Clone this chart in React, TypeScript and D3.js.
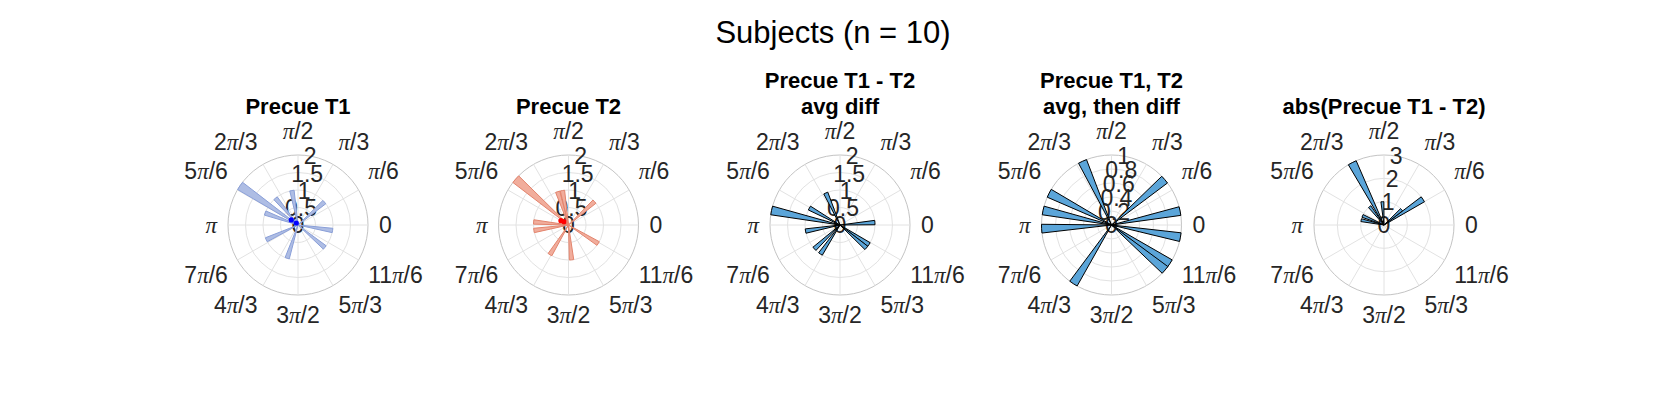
import React from 'react'
import * as d3 from 'd3'

// figure title and panel titles
const figTitle = 'Subjects (n = 10)'
const panelTitles = [
  ['Precue T1'],
  ['Precue T2'],
  ['Precue T1 - T2', 'avg diff'],
  ['Precue T1, T2', 'avg, then diff'],
  ['abs(Precue T1 - T2)'],
]

// theta tick labels (every 30 deg)
const thetaTicks = [0, 30, 60, 90, 120, 150, 180, 210, 240, 270, 300, 330]
const thetaLabels = ['0', 'π/6', 'π/3', 'π/2', '2π/3', '5π/6', 'π', '7π/6', '4π/3', '3π/2', '5π/3', '11π/6']

// radial ticks per panel
const rTicks = [
  [0, 0.5, 1, 1.5, 2],
  [0, 0.5, 1, 1.5, 2],
  [0, 0.5, 1, 1.5, 2],
  [0, 0.2, 0.4, 0.6, 0.8, 1],
  [0, 1, 2, 3],
]

// bar directions (deg) and counts per panel
const t1Angles = [146, 100, 130, 160, 41, -9, -40, -108, -155]
const t1Counts = [2, 1, 1, 1, 1, 1, 1, 1, 1]
const t2Angles = [139, 108, 100, 42, 175, 189, -122, -85, -32]
const t2Counts = [2, 1, 1, 1, 1, 1, 1, 1, 1]
const diffAngles = [168, 114, 151, 4, 190, -137, -124, -34, -41]
const diffCounts = [2, 1, 1, 1, 1, 1, 1, 1, 1]
const avgDiffAngles = [114.5, 153, 168, 183, 40.5, 11.5, -10, -33.5, -40, -123]
const avgDiffCounts = [1, 1, 1, 1, 1, 1, 1, 1, 1, 1]
const absAngles = [117, 33.5, 41, 94, 128, 157, 168]
const absCounts = [3, 2, 1, 1, 1, 1, 1]

// mean markers (r, deg)
const t1Means = [[0.24, 143], [0.075, 130]]
const t2Means = [[0.25, 150], [0.16, 144]]

const binWidth = 7.2

const panels = [
  {angles: t1Angles, counts: t1Counts, fill: '#aebde4', stroke: '#8a9fd8', means: t1Means, dot: '#0000ff'},
  {angles: t2Angles, counts: t2Counts, fill: '#f1ad9c', stroke: '#e3846d', means: t2Means, dot: '#ff0000'},
  {angles: diffAngles, counts: diffCounts, fill: '#5ba5d9', stroke: '#000', means: [], dot: ''},
  {angles: avgDiffAngles, counts: avgDiffCounts, fill: '#5ba5d9', stroke: '#000', means: [], dot: ''},
  {angles: absAngles, counts: absCounts, fill: '#5ba5d9', stroke: '#000', means: [], dot: ''},
]

const centersX = [298, 568.5, 840, 1111.5, 1384]
const cy = 225
const R = 70
const fontFam = '"Liberation Sans", Arial, Helvetica, sans-serif'
const tickSize = 23
const rad = (d: number) => (d * Math.PI) / 180

const ThetaLabel = ({text, x, y, anchor}: {text: string, x: number, y: number, anchor: string}) => {
  const parts = text.split('π')
  return (
    <text x={x} y={y} textAnchor={anchor} fontSize={tickSize} fill="#262626" fontFamily={fontFam}>
      {parts[0]}
      {parts.length > 1 &&
        <tspan fontFamily='"Liberation Serif", "DejaVu Serif", serif' fontStyle="italic">π</tspan>}
      {parts.length > 1 && parts[1]}
    </text>
  )
}

const Polar = ({i}: {i: number}) => {
  const p = panels[i]
  const ticks = rTicks[i]
  const rmax = ticks[ticks.length - 1]
  const r = d3.scaleLinear().domain([0, rmax]).range([0, R])
  const arc = d3.arc<any>()
  const cx = centersX[i]
  const lab = R + 11

  return (
    <g transform={`translate(${cx},${cy})`}>
      {/* grid */}
      {ticks.slice(1).map((t, k) => (
        <circle key={'c' + k} r={r(t)} fill="none"
          stroke={t === rmax ? '#c4c4c4' : '#e2e2e2'} strokeWidth={1} />
      ))}
      {thetaTicks.map(a => (
        <line key={'s' + a} x1={0} y1={0} x2={R * Math.cos(rad(a))} y2={-R * Math.sin(rad(a))}
          stroke="#e2e2e2" strokeWidth={1} />
      ))}
      {/* theta labels */}
      {thetaTicks.map((a, k) => {
        const c = Math.cos(rad(a)), s = Math.sin(rad(a))
        const anchor = Math.abs(c) < 1e-6 ? 'middle' : c > 0 ? 'start' : 'end'
        let y = -lab * s
        if (s > 1e-6) y -= 0.22 * tickSize
        else if (s < -1e-6) y += 0.76 * tickSize
        else y += 0.36 * tickSize
        return <ThetaLabel key={'t' + a} text={thetaLabels[k]} x={lab * c} y={y} anchor={anchor} />
      })}
      {/* radial labels along 80 deg */}
      {ticks.map(t => (
        <text key={'r' + t} x={r(t) * Math.cos(rad(80))} y={-r(t) * Math.sin(rad(80)) + 0.36 * tickSize}
          textAnchor="middle" fontSize={tickSize} fill="#262626" fontFamily={fontFam}>{t}</text>
      ))}
      {/* bars */}
      {p.angles.map((a, k) => {
        const d = arc({
          innerRadius: 0,
          outerRadius: r(p.counts[k]),
          startAngle: Math.PI / 2 - rad(a + binWidth / 2),
          endAngle: Math.PI / 2 - rad(a - binWidth / 2),
        })
        return <path key={'b' + k} d={d || ''} fill={p.fill} stroke={p.stroke} strokeWidth={1}
          strokeLinejoin="miter" />
      })}
      {/* mean markers */}
      {p.means.map((m, k) => (
        <circle key={'m' + k} cx={r(m[0]) * Math.cos(rad(m[1]))} cy={-r(m[0]) * Math.sin(rad(m[1]))}
          r={2.6} fill={p.dot} />
      ))}
      {/* title */}
      {panelTitles[i].map((line, k, arr) => (
        <text key={'h' + k} x={0} y={114 - cy - (arr.length - 1 - k) * 26} textAnchor="middle"
          fontSize={22} fontWeight="bold" fill="#000" fontFamily={fontFam}>{line}</text>
      ))}
    </g>
  )
}

export default function App() {
  return (
    <svg width={1667} height={417} style={{position: 'absolute', left: 0, top: 0, background: '#fff'}}>
      <rect width={1667} height={417} fill="#fff" />
      <text x={833} y={43} textAnchor="middle" fontSize={31} fill="#000" fontFamily={fontFam}>{figTitle}</text>
      {panels.map((_, i) => <Polar key={i} i={i} />)}
    </svg>
  )
}
